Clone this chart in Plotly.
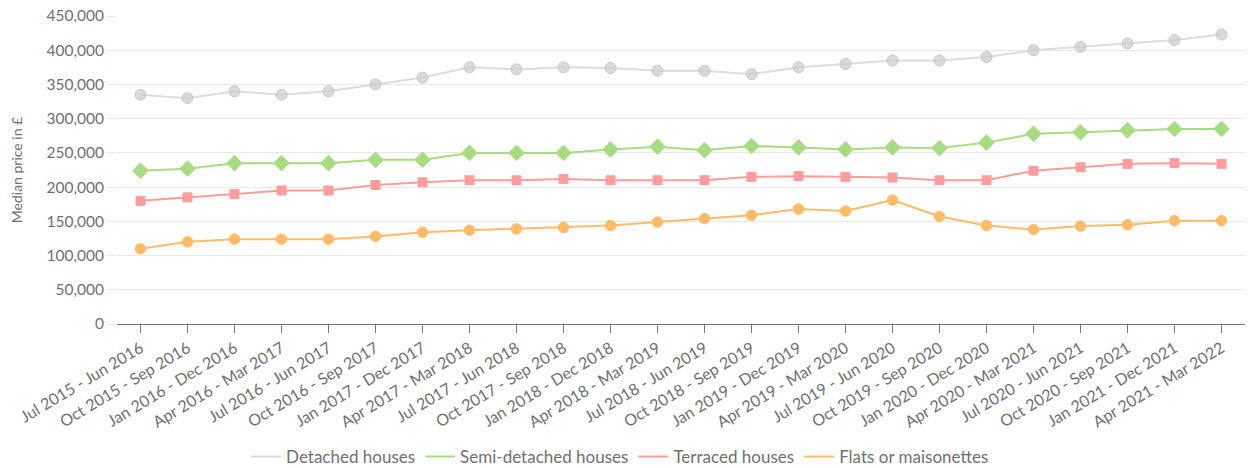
import plotly.graph_objects as go

periods = ["Jul 2015 - Jun 2016", "Oct 2015 - Sep 2016", "Jan 2016 - Dec 2016", "Apr 2016 - Mar 2017",
           "Jul 2016 - Jun 2017", "Oct 2016 - Sep 2017", "Jan 2017 - Dec 2017", "Apr 2017 - Mar 2018",
           "Jul 2017 - Jun 2018", "Oct 2017 - Sep 2018", "Jan 2018 - Dec 2018", "Apr 2018 - Mar 2019",
           "Jul 2018 - Jun 2019", "Oct 2018 - Sep 2019", "Jan 2019 - Dec 2019", "Apr 2019 - Mar 2020",
           "Jul 2019 - Jun 2020", "Oct 2019 - Sep 2020", "Jan 2020 - Dec 2020", "Apr 2020 - Mar 2021",
           "Jul 2020 - Jun 2021", "Oct 2020 - Sep 2021", "Jan 2021 - Dec 2021", "Apr 2021 - Mar 2022"]

detached = [335000, 330000, 340000, 335000, 340000, 350000, 360000, 375000, 372000, 375000, 374000, 370000,
            370000, 365000, 375000, 380000, 385000, 385000, 390000, 400000, 405000, 410000, 415000, 423000]
semi_detached = [224000, 227000, 235000, 235000, 235000, 240000, 240000, 250000, 250000, 250000, 255000, 259000,
                 254000, 260000, 258000, 255000, 258000, 257000, 265000, 278000, 280000, 283000, 285000, 285000]
terraced = [180000, 185000, 190000, 195000, 195000, 203000, 207000, 210000, 210000, 212000, 210000, 210000,
            210000, 215000, 216000, 215000, 214000, 210000, 210000, 224000, 229000, 234000, 235000, 234000]
flats = [110000, 120000, 124000, 124000, 124000, 128000, 134000, 137000, 139000, 141000, 144000, 149000,
         154000, 159000, 168000, 165000, 181000, 157000, 144000, 138000, 143000, 145000, 151000, 151000]

series = [
    ("Detached houses", detached, "#dcdcdc", "circle", 11, "rgba(205,205,205,0.75)", "#c8c8c8"),
    ("Semi-detached houses", semi_detached, "#a8dc80", "diamond", 12, "#a8dc80", "#a8dc80"),
    ("Terraced houses", terraced, "#ff9c9c", "square", 9, "#ff9c9c", "#ff9c9c"),
    ("Flats or maisonettes", flats, "#ffbb66", "circle", 10.5, "#ffbb66", "#ffbb66"),
]

fig = go.Figure()
for name, vals, lc, sym, sz, fc, bc in series:
    fig.add_trace(go.Scatter(
        x=periods, y=vals, name=name, mode="lines+markers", showlegend=False,
        line=dict(color=lc, width=2),
        marker=dict(symbol=sym, size=sz, color=fc, line=dict(color=bc, width=1)),
    ))
# legend entries drawn as lines only
for name, vals, lc, sym, sz, fc, bc in series:
    fig.add_trace(go.Scatter(
        x=[None], y=[None], name=name, mode="lines",
        line=dict(color=lc, width=2), showlegend=True,
    ))

font_family = "Lato, 'Open Sans', sans-serif"
fig.update_layout(
    width=1248, height=468,
    margin=dict(l=117, r=3, t=16, b=144, autoexpand=False),
    plot_bgcolor="white", paper_bgcolor="white",
    font=dict(family=font_family, color="#707070"),
    showlegend=True,
    legend=dict(orientation="h", x=0.446, xanchor="center",
                yref="container", y=0.0235, yanchor="middle",
                font=dict(size=17, color="#707070"),
                traceorder="normal", itemwidth=30, tracegroupgap=0),
    xaxis=dict(
        type="category", range=[-0.5, 23.5], automargin=False,
        tickangle=-31, tickfont=dict(size=16, color="#707070"),
        showline=True, linecolor="#777777", linewidth=1,
        ticks="outside", ticklen=8, tickcolor="#777777",
        showgrid=False, zeroline=False,
    ),
    yaxis=dict(
        range=[0, 450000], dtick=50000, tickformat=",", automargin=False,
        tickfont=dict(size=15.5, color="#707070"),
        showgrid=True, gridcolor="#e8e8e8", gridwidth=1,
        ticks="outside", ticklen=9, tickcolor="#e8e8e8",
        zeroline=False, showline=False,
        title=dict(text="Median price in £", font=dict(size=14, color="#707070"), standoff=20),
    ),
)

fig.write_html("out.html")
